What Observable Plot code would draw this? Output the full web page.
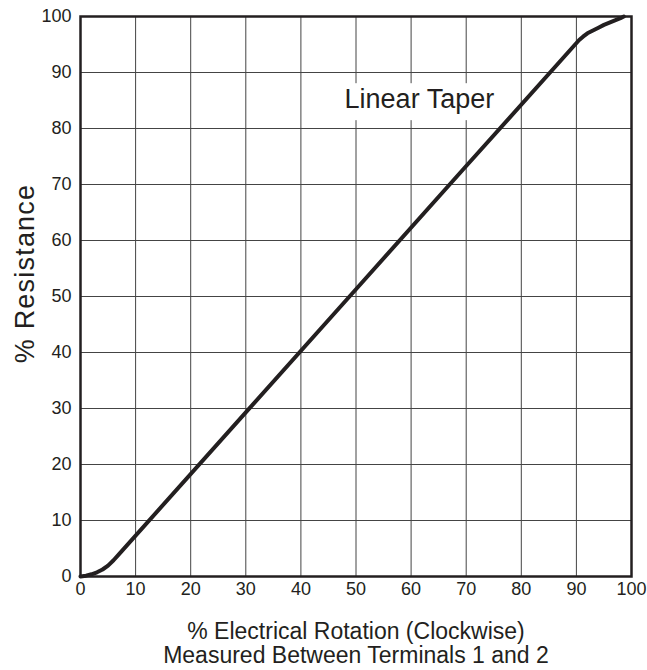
<!DOCTYPE html>
<html>
<head>
<meta charset="utf-8">
<script src="https://cdn.jsdelivr.net/npm/d3@7"></script>
<script src="https://cdn.jsdelivr.net/npm/@observablehq/plot@0.6"></script>
<style>
  html, body { margin: 0; padding: 0; background: #fff; }
  svg { font-family: Arial, "Liberation Sans", Helvetica, sans-serif; }
</style>
</head>
<body>
<div id="chart"></div>
<script>
// Taper curve: % electrical rotation vs % resistance
const rotation   = [0, 1, 2, 3, 4, 5, 6, 7, 30, 50, 70, 90.5, 91.2, 92, 93, 94, 95, 96, 97, 98, 98.6];
const resistance = [0, 0.15, 0.4, 0.75, 1.25, 1.95, 2.9, 4.0, 29.3, 51.3, 73.3, 95.8, 96.4, 97.0, 97.5, 98.0, 98.5, 98.9, 99.3, 99.7, 100];
const xTicks = [0, 10, 20, 30, 40, 50, 60, 70, 80, 90, 100];
const yTicks = [0, 10, 20, 30, 40, 50, 60, 70, 80, 90, 100];
const curveLabel = [{x: 61.5, y: 85.2, text: "Linear Taper"}];
const labelBox = [{x1: 46, x2: 78, y1: 81.4, y2: 88}];
const xTitle = ["% Electrical Rotation (Clockwise)", "Measured Between Terminals 1 and 2"];
const yTitle = "% Resistance";

const curve = rotation.map((x, i) => ({x, y: resistance[i]}));
const ink = "#231f20";

const chart = Plot.plot({
  width: 647,
  height: 670,
  marginLeft: 80,
  marginRight: 16,
  marginTop: 16,
  marginBottom: 94,
  x: {domain: [0, 100]},
  y: {domain: [0, 100]},
  marks: [
    Plot.gridX(xTicks, {stroke: "#444", strokeOpacity: 1, strokeWidth: 1}),
    Plot.gridY(yTicks, {stroke: "#444", strokeOpacity: 1, strokeWidth: 1}),
    Plot.rect(labelBox, {x1: "x1", x2: "x2", y1: "y1", y2: "y2", fill: "white"}),
    Plot.text(curveLabel, {x: "x", y: "y", text: "text", fontSize: 27, fill: ink, textAnchor: "middle", lineAnchor: "middle"}),
    Plot.line(curve, {x: "x", y: "y", stroke: ink, strokeWidth: 4, curve: "linear", strokeLinejoin: "round"}),
    Plot.frame({stroke: ink, strokeWidth: 2.5}),
    Plot.axisX(xTicks, {tickSize: 0, tickPadding: 6, fontSize: 18, fill: ink, label: null}),
    Plot.axisY(yTicks, {tickSize: 0, tickPadding: 9, fontSize: 18, fill: ink, label: null}),
    Plot.text([xTitle[0]], {frameAnchor: "bottom", dy: 55, fontSize: 23, fill: ink, lineAnchor: "middle"}),
    Plot.text([xTitle[1]], {frameAnchor: "bottom", dy: 79, fontSize: 23, fill: ink, lineAnchor: "middle"}),
    Plot.text([yTitle], {frameAnchor: "left", dx: -55, dy: -23, rotate: -90, fontSize: 27, fill: ink, textAnchor: "middle", lineAnchor: "middle"})
  ]
});
d3.select(chart).selectAll("text").filter(function() { return this.textContent === yTitle; })
  .attr("letter-spacing", "1.2px");
document.getElementById("chart").appendChild(chart);
</script>
</body>
</html>
